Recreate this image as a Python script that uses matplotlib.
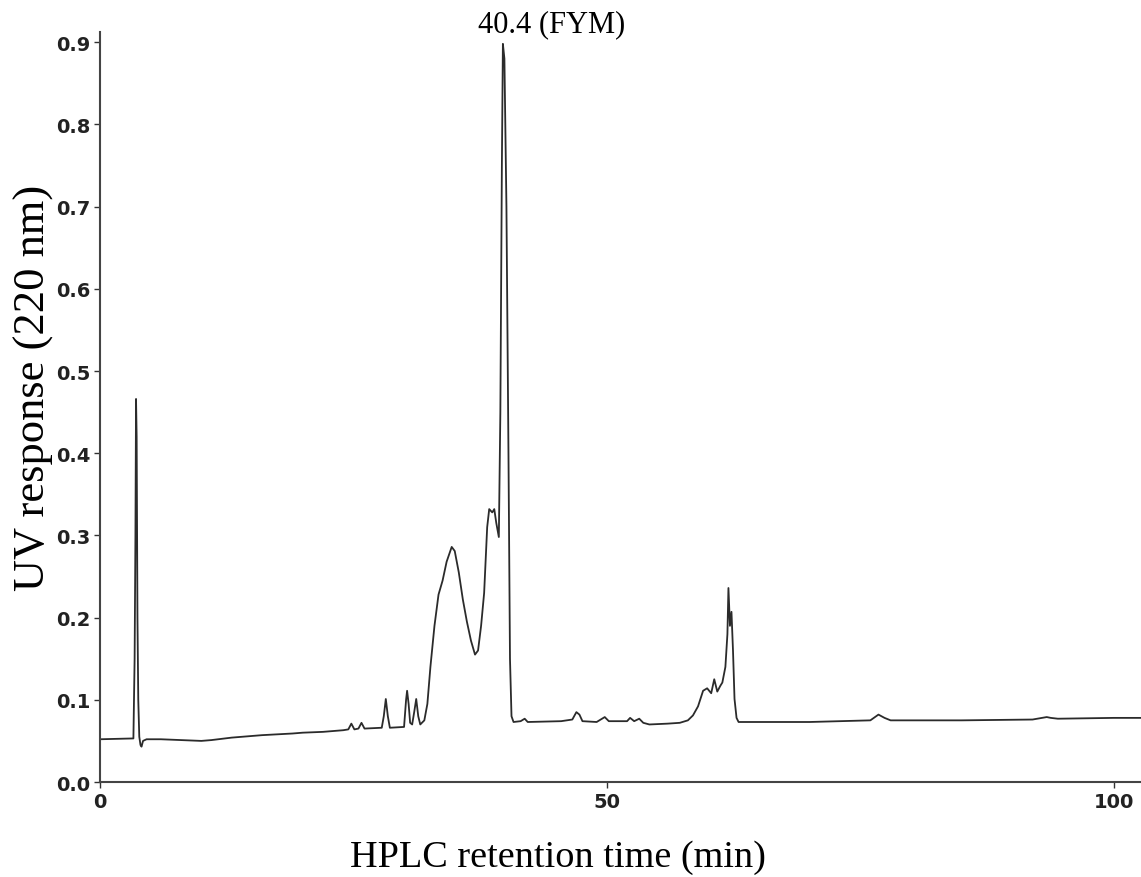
import matplotlib
matplotlib.use("Agg")
import matplotlib.pyplot as plt

# HPLC trace
time_min = [
    0.0, 3.3, 3.42, 3.5, 3.56, 3.62, 3.7, 3.78, 3.88, 4.0, 4.1, 4.25, 4.6,
    6.0, 8.0, 10.0, 11.0, 13.0, 16.0, 19.0, 20.0, 22.0, 24.0,
    24.5, 24.8, 25.1, 25.5, 25.8, 26.1, 27.8, 28.0, 28.2, 28.4, 28.6,
    30.0, 30.2, 30.3, 30.45, 30.6, 30.8, 31.0, 31.2, 31.4, 31.6,
    32.0, 32.3, 32.6, 33.0, 33.4, 33.8, 34.2, 34.7, 35.0, 35.4, 35.8,
    36.2, 36.6, 37.0, 37.3, 37.6, 37.9, 38.2, 38.4, 38.7, 38.9, 39.1,
    39.35, 39.5, 39.65, 39.75, 39.9, 40.1, 40.3, 40.45, 40.6, 40.8,
    41.5, 41.9, 42.2, 45.5, 46.6, 47.0, 47.3, 47.6, 49.0, 49.8, 50.2,
    52.0, 52.3, 52.7, 53.2, 53.6, 54.2, 56.0, 57.2, 58.0, 58.5, 59.0,
    59.5, 59.9, 60.3, 60.6, 60.9, 61.2, 61.4, 61.7, 61.9, 62.0, 62.15,
    62.3, 62.45, 62.6, 62.8, 63.0, 70.0, 76.0, 76.8, 77.4, 78.0, 85.0,
    92.0, 93.4, 93.8, 94.5, 100.0, 102.7,
]
uv_220 = [
    0.052, 0.053, 0.150, 0.300, 0.466, 0.420, 0.200, 0.100, 0.055, 0.045, 0.043, 0.050, 0.052,
    0.052, 0.051, 0.050, 0.051, 0.054, 0.057, 0.059, 0.060, 0.061, 0.063,
    0.064, 0.071, 0.064, 0.065, 0.072, 0.065, 0.066, 0.080, 0.101, 0.080, 0.066,
    0.067, 0.100, 0.111, 0.095, 0.072, 0.070, 0.085, 0.101, 0.080, 0.070,
    0.075, 0.095, 0.140, 0.190, 0.228, 0.245, 0.268, 0.286, 0.281, 0.255, 0.222,
    0.195, 0.172, 0.155, 0.160, 0.190, 0.230, 0.310, 0.332, 0.328, 0.332, 0.315,
    0.298, 0.450, 0.750, 0.898, 0.880, 0.700, 0.400, 0.150, 0.080, 0.073,
    0.074, 0.077, 0.073, 0.074, 0.076, 0.085, 0.082, 0.074, 0.073, 0.079, 0.074,
    0.074, 0.078, 0.074, 0.077, 0.072, 0.070, 0.071, 0.072, 0.075, 0.081, 0.092,
    0.111, 0.114, 0.108, 0.125, 0.110, 0.117, 0.121, 0.140, 0.180, 0.236, 0.190,
    0.207, 0.160, 0.101, 0.078, 0.073, 0.073, 0.075, 0.082, 0.078, 0.075, 0.075,
    0.076, 0.079, 0.078, 0.077, 0.078, 0.078,
]
x_ticks = [0, 50, 100]
y_ticks = [0.0, 0.1, 0.2, 0.3, 0.4, 0.5, 0.6, 0.7, 0.8, 0.9]
peak_label = "40.4 (FYM)"

fig = plt.figure(figsize=(11.41, 8.78), dpi=100)
ax = fig.add_axes([0.0876, 0.1082, 1 - 0.0876, 0.962 - 0.1082])

ax.plot(time_min, uv_220, color="#2b2b2b", lw=1.3)

ax.set_xlim(0, 102.7)
ax.set_ylim(0, 0.912)
ax.set_xticks(x_ticks)
ax.set_yticks(y_ticks)
ax.set_yticklabels([f"{v:.1f}" for v in y_ticks])
ax.tick_params(direction="out", length=4, width=1, colors="#333333",
               labelsize=14, labelcolor="#222222", pad=3)
for lab in ax.get_xticklabels() + ax.get_yticklabels():
    lab.set_fontweight("bold")

for side in ["top", "right"]:
    ax.spines[side].set_visible(False)
for side in ["left", "bottom"]:
    ax.spines[side].set_linewidth(1.5)
    ax.spines[side].set_color("#444444")

# axis titles placed where the original has them
fig.text(558 / 1141, 1 - 867 / 878, "HPLC retention time (min)",
         family="Liberation Serif", fontsize=27.5, ha="center", va="baseline")
fig.text(34 / 1141, 1 - 388 / 878, "UV response (220 nm)",
         family="Liberation Serif", fontsize=32, rotation=90,
         ha="center", va="center")

i_peak = uv_220.index(max(uv_220))
ax.annotate(peak_label, xy=(time_min[i_peak], uv_220[i_peak]),
            xytext=(35, 4), textcoords="offset points", ha="center",
            va="bottom", family="Liberation Serif", fontsize=22,
            annotation_clip=False)

fig.savefig("out.png", dpi=100)
